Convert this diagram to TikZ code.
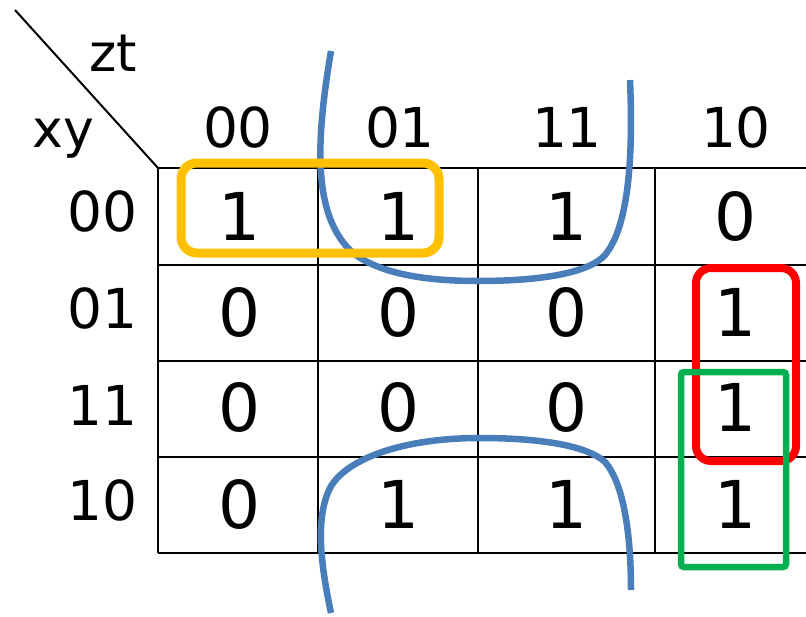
\documentclass[tikz,border=0pt]{standalone}
\usepackage{fontspec}
\setmainfont{DejaVu Sans}
\definecolor{loopblue}{HTML}{4A7EBB}
\definecolor{loopyellow}{HTML}{FFC000}
\definecolor{loopred}{HTML}{FF0000}
\definecolor{loopgreen}{HTML}{00B050}

\begin{document}
\begin{tikzpicture}[x=1pt,y=-1pt,
  gridline/.style={line width=2.5pt,black},
  head/.style={font=\fontsize{55}{60}\selectfont,inner sep=0pt},
  axis/.style={font=\fontsize{52}{58}\selectfont,inner sep=0pt,anchor=base},
  val/.style={font=\fontsize{66}{70}\selectfont,inner sep=0pt},
  blueloop/.style={loopblue,line width=6.5pt},
  yellowloop/.style={loopyellow,line width=9pt,rounded corners=16pt},
  redloop/.style={loopred,line width=8pt,rounded corners=15pt},
  greenloop/.style={loopgreen,line width=6.5pt,rounded corners=3pt}]
\useasboundingbox (0,0) rectangle (806,616);

% table rules
\foreach \y in {168,265,361,457,553}
  \draw[gridline] (158,\y) -- (806,\y);
\foreach \x in {158,318,478,655}
  \draw[gridline] (\x,168) -- (\x,553);

% corner diagonal with the variable names
\coordinate (diagtop) at (15,10);
\coordinate (corner) at (158,168);
\draw[line width=2pt] (diagtop) -- (corner);
\node[axis] (zt) at (113,71) {zt};
\node[axis] (xy) at (63,147) {xy};

% column headers (zt)
\node[head] (h1) at (238,127) {00};
\node[head] (h2) at (400,127) {01};
\node[head] (h3) at (567,127) {11};
\node[head] (h4) at (736,127) {10};

% row headers (xy)
\node[head,anchor=east] (r1) at (138,211) {00};
\node[head,anchor=east] (r2) at (138,308) {01};
\node[head,anchor=east] (r3) at (138,405) {11};
\node[head,anchor=east] (r4) at (138,500) {10};

% cell values
\node[val] (c11) at (239,216) {1};
\node[val] (c12) at (398,216) {1};
\node[val] (c13) at (566,216) {1};
\node[val] (c14) at (735,216) {0};
\node[val] (c21) at (239,312) {0};
\node[val] (c22) at (398,312) {0};
\node[val] (c23) at (566,312) {0};
\node[val] (c24) at (735,312) {1};
\node[val] (c31) at (239,407) {0};
\node[val] (c32) at (398,407) {0};
\node[val] (c33) at (566,407) {0};
\node[val] (c34) at (735,407) {1};
\node[val] (c41) at (239,504) {0};
\node[val] (c42) at (398,504) {1};
\node[val] (c43) at (566,504) {1};
\node[val] (c44) at (735,504) {1};

% wrap-around group (top and bottom rows, middle columns)
\draw[blueloop] (331,51) .. controls (316,140) and (312,215) .. (352,252)
  .. controls (380,275) and (430,281) .. (478,281)
  .. controls (545,281) and (590,272) .. (605,255)
  .. controls (630,225) and (633,150) .. (630,80);
\draw[blueloop] (331,613) .. controls (322,570) and (314,520) .. (330,488)
  .. controls (345,460) and (400,438) .. (480,438)
  .. controls (550,438) and (590,448) .. (605,462)
  .. controls (625,485) and (631,540) .. (631,590);

% other groups
\draw[yellowloop] (181,163) rectangle (439,253);
\draw[redloop] (696,268) rectangle (796,461);
\draw[greenloop] (681,372) rectangle (786,567);
\end{tikzpicture}
\end{document}
